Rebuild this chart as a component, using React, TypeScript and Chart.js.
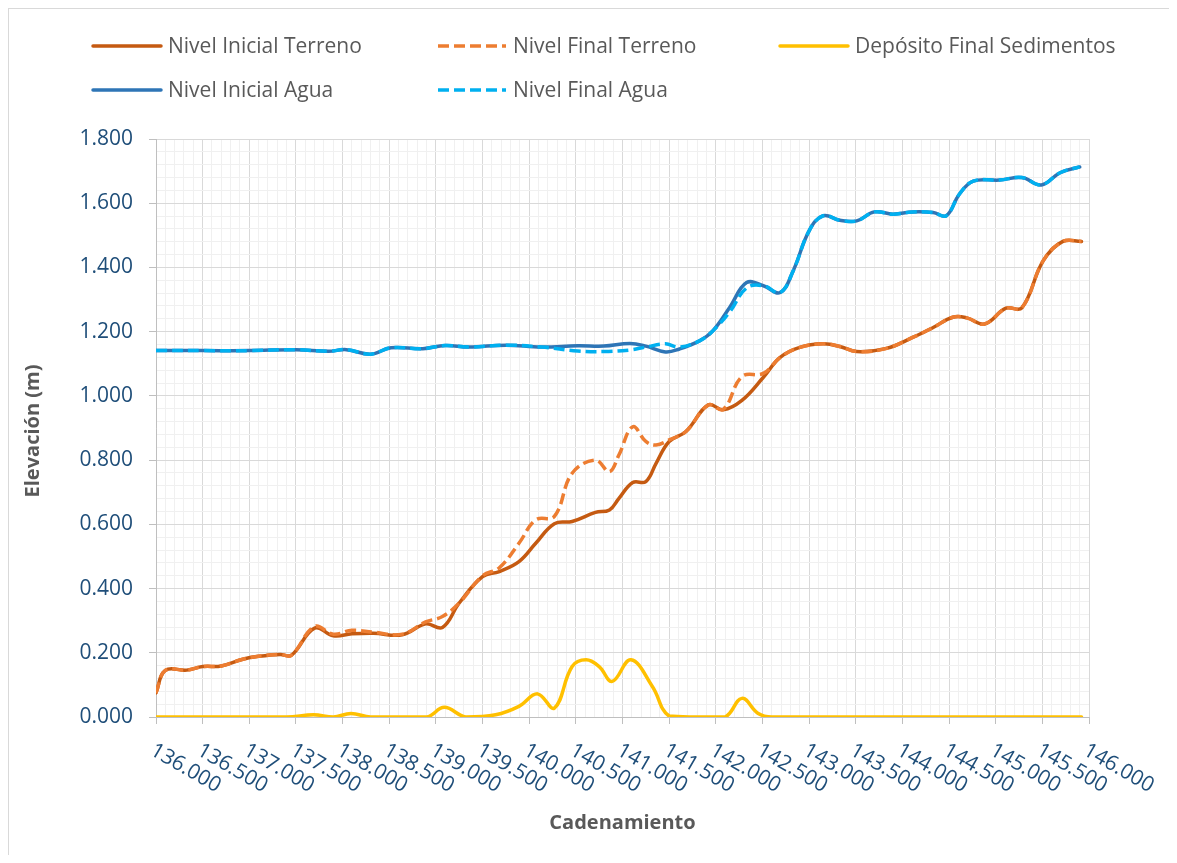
import React, { useEffect, useRef } from "react";
import { Chart, registerables } from "chart.js";

Chart.register(...registerables);

const FONT = "'Open Sans', sans-serif";

// ---- data (chainage in km, elevation in m) ----
const terrenoX = [136.0, 136.1, 136.33, 136.5, 136.7, 136.93, 137.1, 137.33, 137.45, 137.7, 137.9, 138.1, 138.33, 138.64, 138.89, 139.07, 139.25, 139.5, 139.68, 139.89, 140.07, 140.27, 140.46, 140.71, 140.86, 140.96, 141.11, 141.25, 141.36, 141.5, 141.68, 141.92, 142.08, 142.28, 142.51, 142.69, 142.9, 143.15, 143.33, 143.51, 143.83, 144.11, 144.33, 144.54, 144.69, 144.88, 145.11, 145.28, 145.51, 145.72, 145.92];
const terrenoInicial = [0.075, 0.145, 0.146, 0.157, 0.159, 0.180, 0.189, 0.195, 0.192, 0.277, 0.253, 0.259, 0.261, 0.256, 0.290, 0.279, 0.355, 0.437, 0.453, 0.484, 0.541, 0.602, 0.609, 0.637, 0.645, 0.680, 0.730, 0.733, 0.790, 0.858, 0.889, 0.972, 0.957, 0.986, 1.058, 1.120, 1.151, 1.162, 1.154, 1.138, 1.148, 1.182, 1.213, 1.245, 1.243, 1.224, 1.273, 1.274, 1.421, 1.481, 1.481];
const terrenoFinal = [0.075, 0.145, 0.146, 0.157, 0.159, 0.180, 0.189, 0.195, 0.192, 0.282, 0.258, 0.270, 0.264, 0.258, 0.296, 0.313, 0.355, 0.440, 0.465, 0.541, 0.614, 0.625, 0.759, 0.800, 0.764, 0.815, 0.904, 0.858, 0.847, 0.863, 0.889, 0.972, 0.958, 1.060, 1.070, 1.120, 1.151, 1.162, 1.154, 1.138, 1.148, 1.182, 1.213, 1.245, 1.243, 1.224, 1.273, 1.274, 1.421, 1.481, 1.481];

const aguaX = [136.0, 136.5, 137.0, 137.5, 137.85, 138.04, 138.3, 138.52, 138.86, 139.1, 139.35, 139.75, 140.13, 140.52, 140.8, 141.08, 141.25, 141.46, 141.61, 141.83, 141.97, 142.15, 142.33, 142.51, 142.69, 142.83, 143.0, 143.15, 143.33, 143.51, 143.7, 143.9, 144.11, 144.33, 144.47, 144.61, 144.76, 145.04, 145.28, 145.49, 145.69, 145.9];
const aguaInicial = [1.141, 1.141, 1.141, 1.144, 1.139, 1.144, 1.130, 1.150, 1.147, 1.157, 1.152, 1.158, 1.152, 1.156, 1.155, 1.163, 1.155, 1.137, 1.146, 1.172, 1.203, 1.276, 1.353, 1.343, 1.322, 1.390, 1.514, 1.561, 1.547, 1.545, 1.573, 1.566, 1.573, 1.571, 1.561, 1.628, 1.669, 1.672, 1.680, 1.657, 1.695, 1.713];
const aguaFinal = [1.141, 1.141, 1.141, 1.144, 1.139, 1.144, 1.130, 1.150, 1.147, 1.157, 1.152, 1.158, 1.152, 1.140, 1.138, 1.143, 1.152, 1.162, 1.152, 1.172, 1.203, 1.262, 1.336, 1.343, 1.322, 1.390, 1.514, 1.561, 1.547, 1.545, 1.573, 1.566, 1.573, 1.571, 1.561, 1.628, 1.669, 1.672, 1.680, 1.657, 1.695, 1.713];

const sedX = [136.0, 137.4, 137.69, 137.9, 138.09, 138.3, 138.9, 139.09, 139.32, 139.64, 139.89, 140.09, 140.27, 140.46, 140.61, 140.75, 140.89, 141.09, 141.32, 141.5, 141.8, 142.1, 142.28, 142.45, 142.6, 145.92];
const sedimentos = [0, 0, 0.007, 0, 0.011, 0, 0, 0.030, 0, 0.007, 0.033, 0.072, 0.028, 0.157, 0.178, 0.157, 0.111, 0.178, 0.095, 0.003, 0, 0, 0.058, 0.012, 0, 0];

const seriesLabels = ["Nivel Inicial Terreno", "Nivel Final Terreno", "Depósito Final Sedimentos", "Nivel Inicial Agua", "Nivel Final Agua"];
const seriesColors = ["#c55a11", "#ed7d31", "#ffc000", "#2e75b6", "#00b0f0"];
const dashPattern = [11, 5];

// axis ranges / ticks
const X_MIN = 136, X_MAX = 146;
const Y_MIN = 0, Y_MAX = 1.8;
const xTickValues = Array.from({ length: 101 }, (_, i) => Math.round((X_MIN + i * 0.1) * 10) / 10);
const yTickValues = Array.from({ length: 46 }, (_, i) => Math.round(i * 0.04 * 100) / 100);
const isMajorX = (v: number) => Math.round((v - X_MIN) * 10) % 5 === 0;
const isMajorY = (v: number) => Math.round(v * 100) % 20 === 0;

const xTitle = "Cadenamiento";
const yTitle = "Elevación (m)";

const W = 1167, H = 851;
const PLOT_LEFT = 147, PLOT_RIGHT = 1080, PLOT_TOP = 130, PLOT_BOTTOM = 708;

const toPts = (xs: number[], ys: number[]) => xs.map((x, i) => ({ x, y: ys[i] }));

const decorPlugin = {
  id: "decor",
  afterDraw(chart: any) {
    const ctx = chart.ctx as CanvasRenderingContext2D;
    const xs = chart.scales.x;
    const ys = chart.scales.y;
    ctx.save();
    // x tick labels rotated
    ctx.font = `21px ${FONT}`;
    ctx.fillStyle = "#1f4e79";
    ctx.textAlign = "left";
    ctx.textBaseline = "alphabetic";
    const axisY = ys.getPixelForValue(0);
    xTickValues.filter(isMajorX).forEach((v) => {
      const px = xs.getPixelForValue(v);
      ctx.save();
      ctx.translate(px - 7, axisY + 37);
      ctx.rotate((30 * Math.PI) / 180);
      ctx.fillText(v.toFixed(3), 0, 0);
      ctx.restore();
    });
    // axis titles
    ctx.fillStyle = "#595959";
    ctx.font = `bold 20px ${FONT}`;
    ctx.textAlign = "center";
    ctx.textBaseline = "middle";
    ctx.fillText(xTitle, (chart.chartArea.left + chart.chartArea.right) / 2, 814);
    ctx.save();
    ctx.translate(24, (chart.chartArea.top + chart.chartArea.bottom) / 2 + 3);
    ctx.rotate(-Math.PI / 2);
    ctx.fillText(yTitle, 0, 0);
    ctx.restore();
    // legend
    const slots = [
      { x: 84, y: 37 }, { x: 429, y: 37 }, { x: 771, y: 37 },
      { x: 84, y: 81 }, { x: 429, y: 81 },
    ];
    ctx.font = `21px ${FONT}`;
    ctx.textAlign = "left";
    ctx.textBaseline = "middle";
    chart.data.datasets.forEach((ds: any, i: number) => {
      const s = slots[i];
      ctx.save();
      ctx.strokeStyle = ds.borderColor;
      ctx.lineWidth = 3.5;
      ctx.lineCap = ds.borderDash && ds.borderDash.length ? "butt" : "round";
      ctx.setLineDash(ds.borderDash || []);
      ctx.beginPath();
      ctx.moveTo(s.x, s.y);
      ctx.lineTo(s.x + 68, s.y);
      ctx.stroke();
      ctx.restore();
      ctx.fillStyle = "#595959";
      ctx.fillText(ds.label, s.x + 75, s.y + 1);
    });
    ctx.restore();
  },
};

export default function App() {
  const ref = useRef<HTMLCanvasElement | null>(null);
  useEffect(() => {
    if (!ref.current) return;
    const mk = (i: number, data: any[], dashed: boolean) => ({
      label: seriesLabels[i],
      data,
      borderColor: seriesColors[i],
      backgroundColor: seriesColors[i],
      borderWidth: 3.5,
      borderDash: dashed ? dashPattern : [],
      borderCapStyle: dashed ? "butt" : "round",
      borderJoinStyle: "round",
      pointRadius: 0,
      pointHoverRadius: 0,
      tension: 0.4,
      fill: false,
      order: 5 - i,
    });
    const chart = new Chart(ref.current, {
      type: "line",
      data: {
        datasets: [
          mk(0, toPts(terrenoX, terrenoInicial), false),
          mk(1, toPts(terrenoX, terrenoFinal), true),
          mk(2, toPts(sedX, sedimentos), false),
          mk(3, toPts(aguaX, aguaInicial), false),
          mk(4, toPts(aguaX, aguaFinal), true),
        ] as any,
      },
      options: {
        responsive: false,
        animation: false,
        layout: { padding: { top: PLOT_TOP, right: W - PLOT_RIGHT, left: 0, bottom: 0 } },
        plugins: { legend: { display: false }, tooltip: { enabled: false }, title: { display: false } },
        scales: {
          x: {
            type: "linear",
            min: X_MIN,
            max: X_MAX,
            afterBuildTicks: (s: any) => { s.ticks = xTickValues.map((v) => ({ value: v })); },
            afterFit: (s: any) => { s.height = H - PLOT_BOTTOM; },
            ticks: { autoSkip: false, callback: () => "", maxRotation: 0 },
            grid: {
              color: (c: any) => (c.tick && isMajorX(c.tick.value) ? "#d9d9d9" : "#f0f0f0"),
              tickColor: (c: any) => (c.tick && isMajorX(c.tick.value) ? "#bfbfbf" : "rgba(0,0,0,0)"),
              tickLength: 7,
              lineWidth: 1,
            },
            border: { color: "#bfbfbf", width: 1 },
          },
          y: {
            type: "linear",
            min: Y_MIN,
            max: Y_MAX,
            afterBuildTicks: (s: any) => { s.ticks = yTickValues.map((v) => ({ value: v })); },
            afterFit: (s: any) => { s.width = PLOT_LEFT; },
            ticks: {
              autoSkip: false,
              padding: 16,
              color: "#1f4e79",
              font: { family: FONT, size: 21 },
              callback: (v: any) => (isMajorY(Number(v)) ? Number(v).toFixed(3) : ""),
            },
            grid: {
              color: (c: any) => (c.tick && isMajorY(c.tick.value) ? "#d9d9d9" : "#f0f0f0"),
              tickColor: (c: any) => (c.tick && isMajorY(c.tick.value) ? "#bfbfbf" : "rgba(0,0,0,0)"),
              tickLength: 7,
              lineWidth: 1,
            },
            border: { color: "#bfbfbf", width: 1 },
          },
        },
      },
      plugins: [decorPlugin],
    } as any);
    return () => chart.destroy();
  }, []);
  return (
    <div style={{ width: 1161, height: 847, overflow: "hidden" }}>
      <div style={{ width: 1200, height: 900, border: "1px solid #d9d9d9", borderRight: "none", borderBottom: "none", boxSizing: "border-box", background: "#fff" }}>
        <canvas ref={ref} width={W} height={H} style={{ display: "block" }} />
      </div>
    </div>
  );
}
